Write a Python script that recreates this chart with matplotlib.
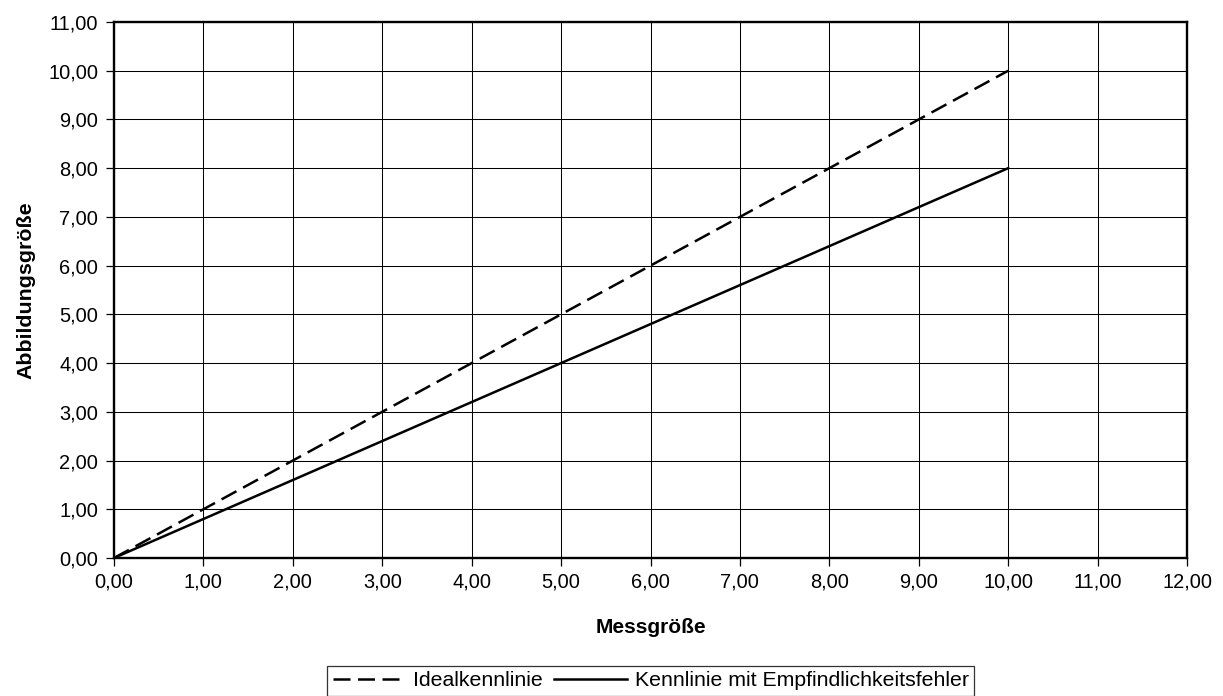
import matplotlib
matplotlib.use('Agg')
import matplotlib.pyplot as plt
from matplotlib.ticker import FuncFormatter, MultipleLocator

plt.rcParams['font.family'] = ['Liberation Sans', 'DejaVu Sans']

# Daten
messgroesse = [0, 1, 2, 3, 4, 5, 6, 7, 8, 9, 10]
ideal = [0, 1, 2, 3, 4, 5, 6, 7, 8, 9, 10]
mit_fehler = [0, 0.8, 1.6, 2.4, 3.2, 4.0, 4.8, 5.6, 6.4, 7.2, 8.0]

fig = plt.figure(figsize=(12.23, 6.96), dpi=100)
ax = fig.add_axes([0.0932, 0.1983, 0.8774, 0.7701])

ax.plot(messgroesse, ideal, color='black', lw=1.8, dashes=(6.8, 3.0), label='Idealkennlinie')
ax.plot(messgroesse, mit_fehler, color='black', lw=1.8, label='Kennlinie mit Empfindlichkeitsfehler')

ax.set_xlim(0, 12)
ax.set_ylim(0, 11)
ax.xaxis.set_major_locator(MultipleLocator(1))
ax.yaxis.set_major_locator(MultipleLocator(1))
fmt = FuncFormatter(lambda v, p: f'{v:.2f}'.replace('.', ','))
ax.xaxis.set_major_formatter(fmt)
ax.yaxis.set_major_formatter(fmt)

ax.grid(True, color='black', lw=0.75)
ax.set_axisbelow(True)
for s in ax.spines.values():
    s.set_linewidth(1.7)
ax.tick_params(direction='out', length=5.5, width=0.9, labelsize=14.4)
ax.tick_params(axis='x', pad=5)
ax.tick_params(axis='y', pad=6)

ax.set_xlabel('Messgröße', fontsize=15, fontweight='bold', labelpad=19)
ax.set_ylabel('Abbildungsgröße', fontsize=15.4, fontweight='bold', labelpad=9)

leg = fig.legend(loc='center', bbox_to_anchor=(0.532, 0.0216), ncol=2, fontsize=15.3,
                 frameon=True, fancybox=False, edgecolor='black', handlelength=3.4,
                 columnspacing=0.55, handletextpad=0.38, borderpad=0.25,
                 borderaxespad=0)
leg.get_frame().set_linewidth(0.9)

fig.savefig('out.png', dpi=100)
